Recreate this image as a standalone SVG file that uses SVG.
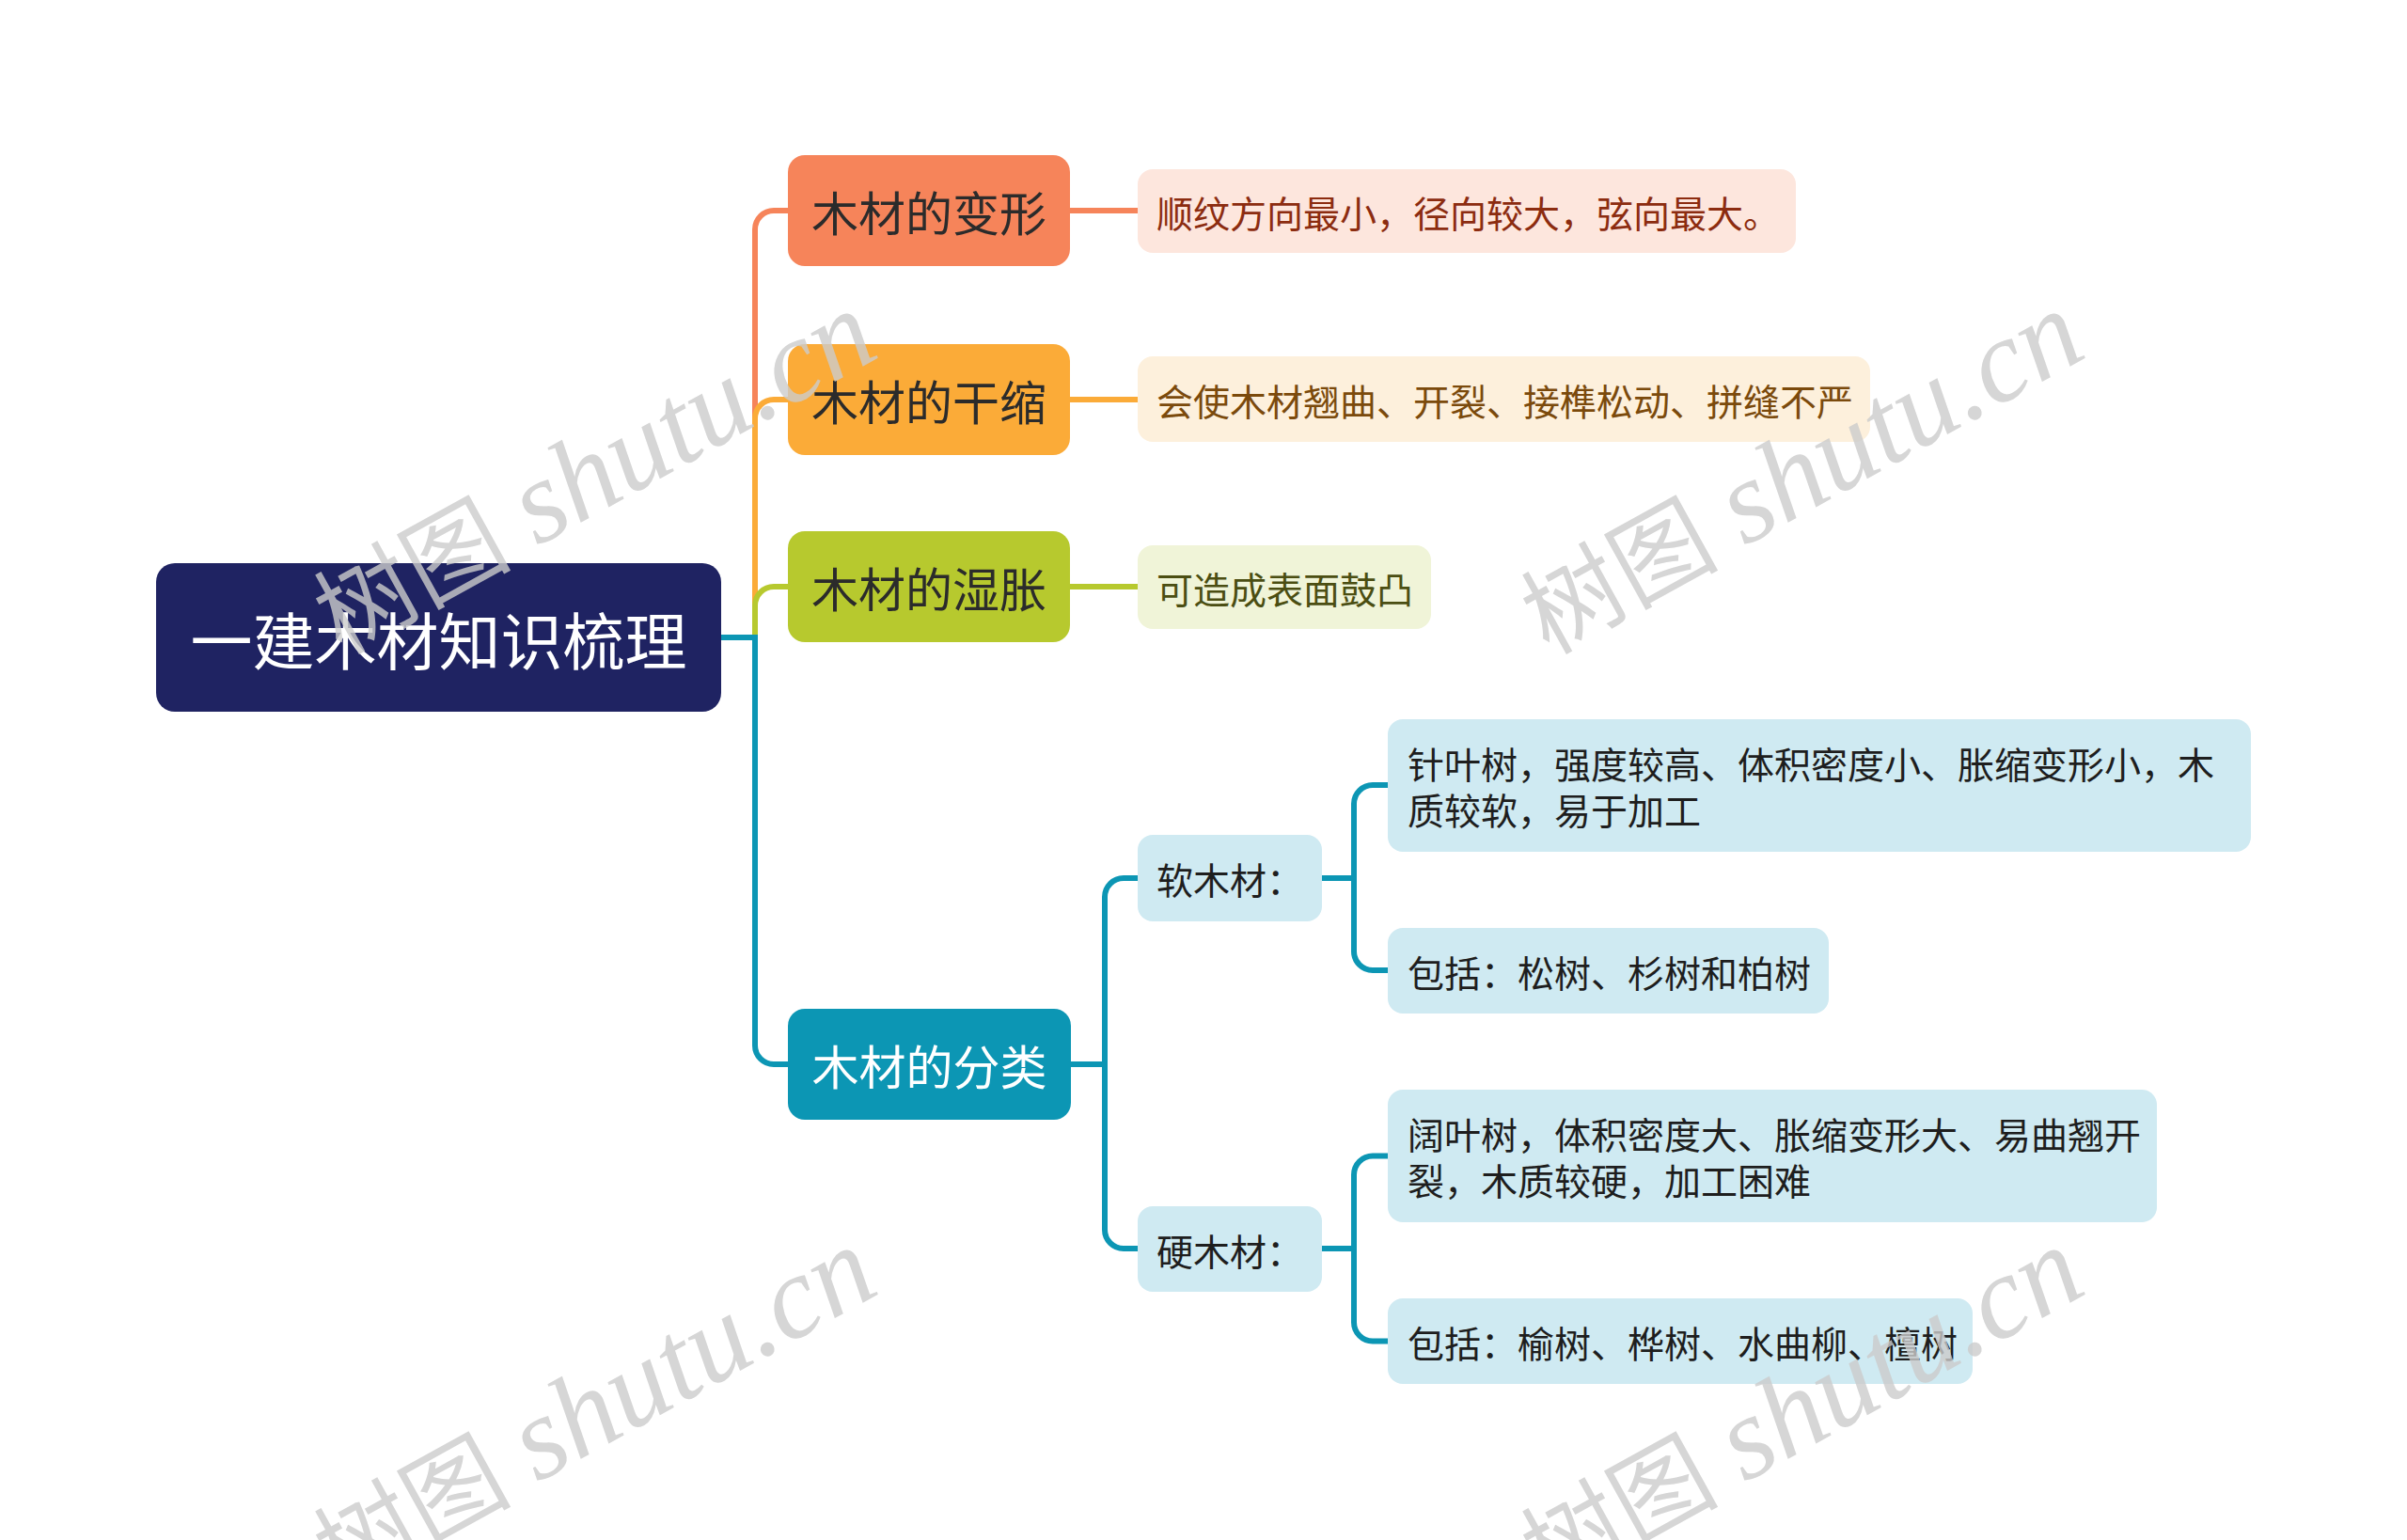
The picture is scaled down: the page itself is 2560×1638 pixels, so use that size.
<svg xmlns="http://www.w3.org/2000/svg" width="2560" height="1638" viewBox="0 0 2560 1638">
<style>
text{font-family:"Noto Sans CJK SC","Noto Sans",sans-serif;dominant-baseline:central}
.conn path{fill:none;stroke-width:6;stroke-linecap:butt}
.c1{stroke:#f6845a}.c2{stroke:#fbab38}.c3{stroke:#b7c92e}.c4{stroke:#0c96b4}
.root text{font-size:66px;fill:#ffffff}
.l1 text{font-size:50px;fill:#2b2b2b}
.leaf text{font-size:39px}
.blue rect{fill:#cfeaf2}.blue text{fill:#1e1e1e}
.wm text{font-size:125px;fill:#cccccc;opacity:0.8}
</style>
<rect width="2560" height="1638" fill="#ffffff"/>
<g class="conn">
<path class="c1" d="M767,678 H803 V244 A20,20 0 0 1 823,224 H838"/>
<path class="c2" d="M767,678 H803 V445 A20,20 0 0 1 823,425 H838"/>
<path class="c3" d="M767,678 H803 V644 A20,20 0 0 1 823,624 H838"/>
<path class="c4" d="M767,678 H803 V1112 A20,20 0 0 0 823,1132 H838"/>
<path class="c1" d="M1138,224 H1210"/>
<path class="c2" d="M1138,425 H1210"/>
<path class="c3" d="M1138,624 H1210"/>
<path class="c4" d="M1139,1132 H1175 V954 A20,20 0 0 1 1195,934 H1210"/>
<path class="c4" d="M1139,1132 H1175 V1308 A20,20 0 0 0 1195,1328 H1210"/>
<path class="c4" d="M1406,934 H1440 V855 A20,20 0 0 1 1460,835 H1476"/>
<path class="c4" d="M1406,934 H1440 V1012 A20,20 0 0 0 1460,1032 H1476"/>
<path class="c4" d="M1406,1328 H1440 V1249.5 A20,20 0 0 1 1460,1229.5 H1476"/>
<path class="c4" d="M1406,1328 H1440 V1406.5 A20,20 0 0 0 1460,1426.5 H1476"/>
</g>
<g id="root" class="root">
<rect x="166" y="599" width="601" height="158" rx="20" fill="#1f2362"/>
<text x="466.5" y="678" text-anchor="middle">一建木材知识梳理</text>
</g>
<g id="n-bianxing" class="l1">
<rect x="838" y="165" width="300" height="118" rx="18" fill="#f6845a"/>
<text x="988" y="224" text-anchor="middle">木材的变形</text>
</g>
<g id="n-gansuo" class="l1">
<rect x="838" y="366" width="300" height="118" rx="18" fill="#fbab38"/>
<text x="988" y="425" text-anchor="middle">木材的干缩</text>
</g>
<g id="n-shizhang" class="l1">
<rect x="838" y="565" width="300" height="118" rx="18" fill="#b7c92e"/>
<text x="988" y="624" text-anchor="middle">木材的湿胀</text>
</g>
<g id="n-fenlei" class="l1">
<rect x="838" y="1073" width="301" height="118" rx="18" fill="#0c96b4"/>
<text x="988.5" y="1132" text-anchor="middle" style="fill:#ffffff">木材的分类</text>
</g>
<g id="leaf-bianxing" class="leaf">
<rect x="1210" y="180" width="700" height="89" rx="16" fill="#fde6dd"/>
<text x="1230" y="224.5" fill="#8c2c10">顺纹方向最小，径向较大，弦向最大。</text>
</g>
<g id="leaf-gansuo" class="leaf">
<rect x="1210" y="379" width="779" height="91" rx="16" fill="#fdf0dc"/>
<text x="1230" y="424.5" fill="#7b4a0c">会使木材翘曲、开裂、接榫松动、拼缝不严</text>
</g>
<g id="leaf-shizhang" class="leaf">
<rect x="1210" y="580" width="312" height="89" rx="16" fill="#f0f4d8"/>
<text x="1230" y="624.5" fill="#4b4e12">可造成表面鼓凸</text>
</g>
<g id="n-ruanmucai" class="leaf blue">
<rect x="1210" y="888" width="196" height="92" rx="16"/>
<text x="1230" y="934">软木材：</text>
</g>
<g id="n-yingmucai" class="leaf blue">
<rect x="1210" y="1283" width="196" height="91" rx="16"/>
<text x="1230" y="1328.5">硬木材：</text>
</g>
<g id="leaf-soft1" class="leaf blue">
<rect x="1476" y="765" width="918" height="141" rx="16"/>
<text x="1497" y="811">针叶树，强度较高、体积密度小、胀缩变形小，木</text>
<text x="1497" y="860">质较软，易于加工</text>
</g>
<g id="leaf-soft2" class="leaf blue">
<rect x="1476" y="987" width="469" height="91" rx="16"/>
<text x="1497" y="1032.5">包括：松树、杉树和柏树</text>
</g>
<g id="leaf-hard1" class="leaf blue">
<rect x="1476" y="1159" width="818" height="141" rx="16"/>
<text x="1497" y="1205">阔叶树，体积密度大、胀缩变形大、易曲翘开</text>
<text x="1497" y="1254">裂，木质较硬，加工困难</text>
</g>
<g id="leaf-hard2" class="leaf blue">
<rect x="1476" y="1381" width="622" height="91" rx="16"/>
<text x="1497" y="1426.5">包括：榆树、桦树、水曲柳、檀树</text>
</g>
<g class="wm">
<g transform="translate(1647,697) rotate(-29)"><text style="dominant-baseline:auto"><tspan font-size="105">树图</tspan><tspan x="238" font-family="Liberation Serif" font-style="italic">shutu.cn</tspan></text></g>
<g transform="translate(363,697) rotate(-29)"><text style="dominant-baseline:auto"><tspan font-size="105">树图</tspan><tspan x="238" font-family="Liberation Serif" font-style="italic">shutu.cn</tspan></text></g>
<g transform="translate(1647,1693) rotate(-29)"><text style="dominant-baseline:auto"><tspan font-size="105">树图</tspan><tspan x="238" font-family="Liberation Serif" font-style="italic">shutu.cn</tspan></text></g>
<g transform="translate(363,1693) rotate(-29)"><text style="dominant-baseline:auto"><tspan font-size="105">树图</tspan><tspan x="238" font-family="Liberation Serif" font-style="italic">shutu.cn</tspan></text></g>
</g>
</svg>
